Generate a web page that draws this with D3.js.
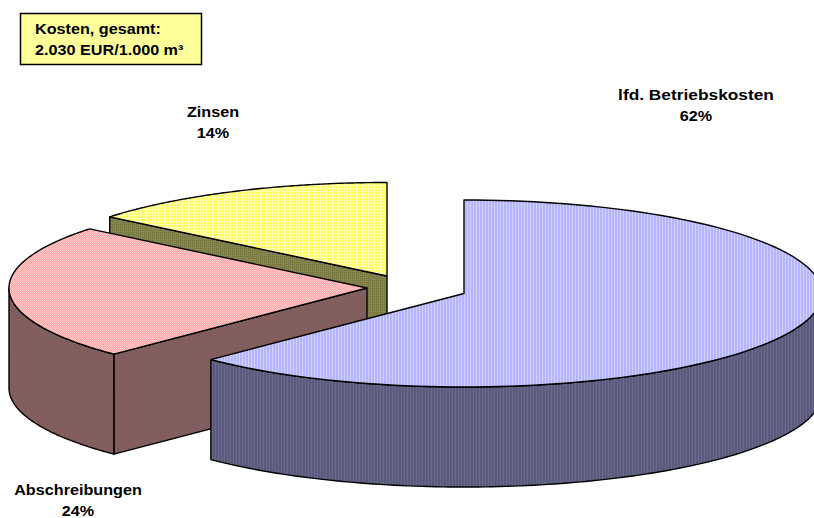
<!DOCTYPE html>
<html><head><meta charset="utf-8">
<script src="https://cdnjs.cloudflare.com/ajax/libs/d3/7.8.5/d3.min.js"></script>
<style>html,body{margin:0;padding:0;background:#fff}svg{display:block}
text{font-family:"Liberation Sans",Arial,sans-serif;font-weight:bold;font-size:14.2px;fill:#000}</style>
</head><body><svg id="c" width="814" height="518"></svg>
<script>
const categories = ["lfd. Betriebskosten", "Abschreibungen", "Zinsen"];
const shares = [62.5, 23.4, 14.1];
const shareLabels = ["62%", "24%", "14%"];
const noteLines = ["Kosten, gesamt:", "2.030 EUR/1.000 m³"];

const rx = 358, ry = 93.5, depth = 100, textStretch = 1.14;
const labelStretch = [1.22, 1.14, 1.14];
const centers = [[464, 293.5], [367, 288], [387, 276]];
const labelAt = [[696, 100], [78, 495], [213, 117]];
const tops = ["url(#pBlue)", "url(#pPink)", "url(#pYellow)"];
const walls = ["url(#wBlue)", "url(#wPink)", "url(#wYellow)"];

const svg = d3.select("#c");
const defs = svg.append("defs");
function stripes(id, w, h, cells) {
  const p = defs.append("pattern").attr("id", id).attr("patternUnits", "userSpaceOnUse")
    .attr("width", w).attr("height", h);
  cells.forEach(c => p.append("rect").attr("x", c[0]).attr("y", c[1]).attr("width", c[2]).attr("height", c[3]).attr("fill", c[4]));
}
stripes("pBlue", 3, 3, [[0,0,3,3,"#b4b4ff"],[2,0,1,3,"#d2d2ff"]]);
stripes("wBlue", 3, 2, [[0,0,3,2,"#5c5c80"],[2,0,1,2,"#6a6a86"],[0,0,1,1,"#54547c"]]);
stripes("pPink", 2, 2, [[0,0,2,2,"#ffa8a8"],[0,0,1,1,"#ffc8c8"],[1,1,1,1,"#ffc8c8"]]);
stripes("wPink", 2, 2, [[0,0,2,2,"#8a6464"],[0,0,1,1,"#7a5858"],[1,1,1,1,"#7a5858"]]);
stripes("pYellow", 3, 3, [[0,0,3,3,"#ffff58"],[2,0,1,3,"#ffffb8"],[0,2,3,1,"#ffffb8"]]);
stripes("wYellow", 2, 2, [[0,0,2,2,"#80804a"],[0,0,1,1,"#76763e"],[1,1,1,1,"#8a8a58"]]);

const pie = d3.pie().sort(null).value(d => d);
const arcs = pie(shares);
const line = d3.line();
const pt = (c, t, dy = 0) => [c[0] + rx * Math.sin(t), c[1] - ry * Math.cos(t) + dy];
const rim = (c, a, b, dy = 0) => d3.range(0, 121).map(i => pt(c, a + (b - a) * i / 120, dy));
const style = s => s.attr("stroke", "#000").attr("stroke-width", 1.4).attr("stroke-linejoin", "round");
const TAU = 2 * Math.PI;

// paint back to front: Zinsen, Abschreibungen, Betriebskosten
[2, 1, 0].forEach(i => {
  const a = arcs[i], c = centers[i], g = svg.append("g").attr("class", "slice");
  const s = a.startAngle, e = a.endAngle;
  // cut face turned towards the viewer
  if (i === 2 || i === 1) {
    const p = pt(c, s);
    g.append("path").attr("d", line([c, p, [p[0], p[1] + depth], [c[0], c[1] + depth]]) + "Z")
      .attr("fill", walls[i]).call(style);
  }
  // outer rim, the part of the arc turned towards the viewer
  const fs = Math.max(s, TAU / 4), fe = Math.min(e, 3 * TAU / 4);
  if (fe > fs) {
    const path = rim(c, fs, fe).concat(rim(c, fe, fs, depth));
    g.append("path").attr("d", line(path) + "Z").attr("fill", walls[i]).call(style);
  }
  // top surface
  g.append("path").attr("d", line([c].concat(rim(c, s, e))) + "Z").attr("fill", tops[i]).call(style);
});

function put(x, y, str, anchor, k) {
  svg.append("text").attr("text-anchor", anchor)
    .attr("transform", `translate(${x},${y}) scale(${k},1)`).text(str);
}
// labels
categories.forEach((name, i) => {
  put(labelAt[i][0], labelAt[i][1], name, "middle", labelStretch[i]);
  put(labelAt[i][0], labelAt[i][1] + 20.5, shareLabels[i], "middle", textStretch);
});

// note box
svg.append("rect").attr("x", 20.5).attr("y", 13.5).attr("width", 181).attr("height", 51)
  .attr("fill", "#ffff99").attr("stroke", "#000").attr("stroke-width", 1.5);
noteLines.forEach((l, i) => put(35, 33.5 + i * 21, l, "start", textStretch));
</script></body></html>
